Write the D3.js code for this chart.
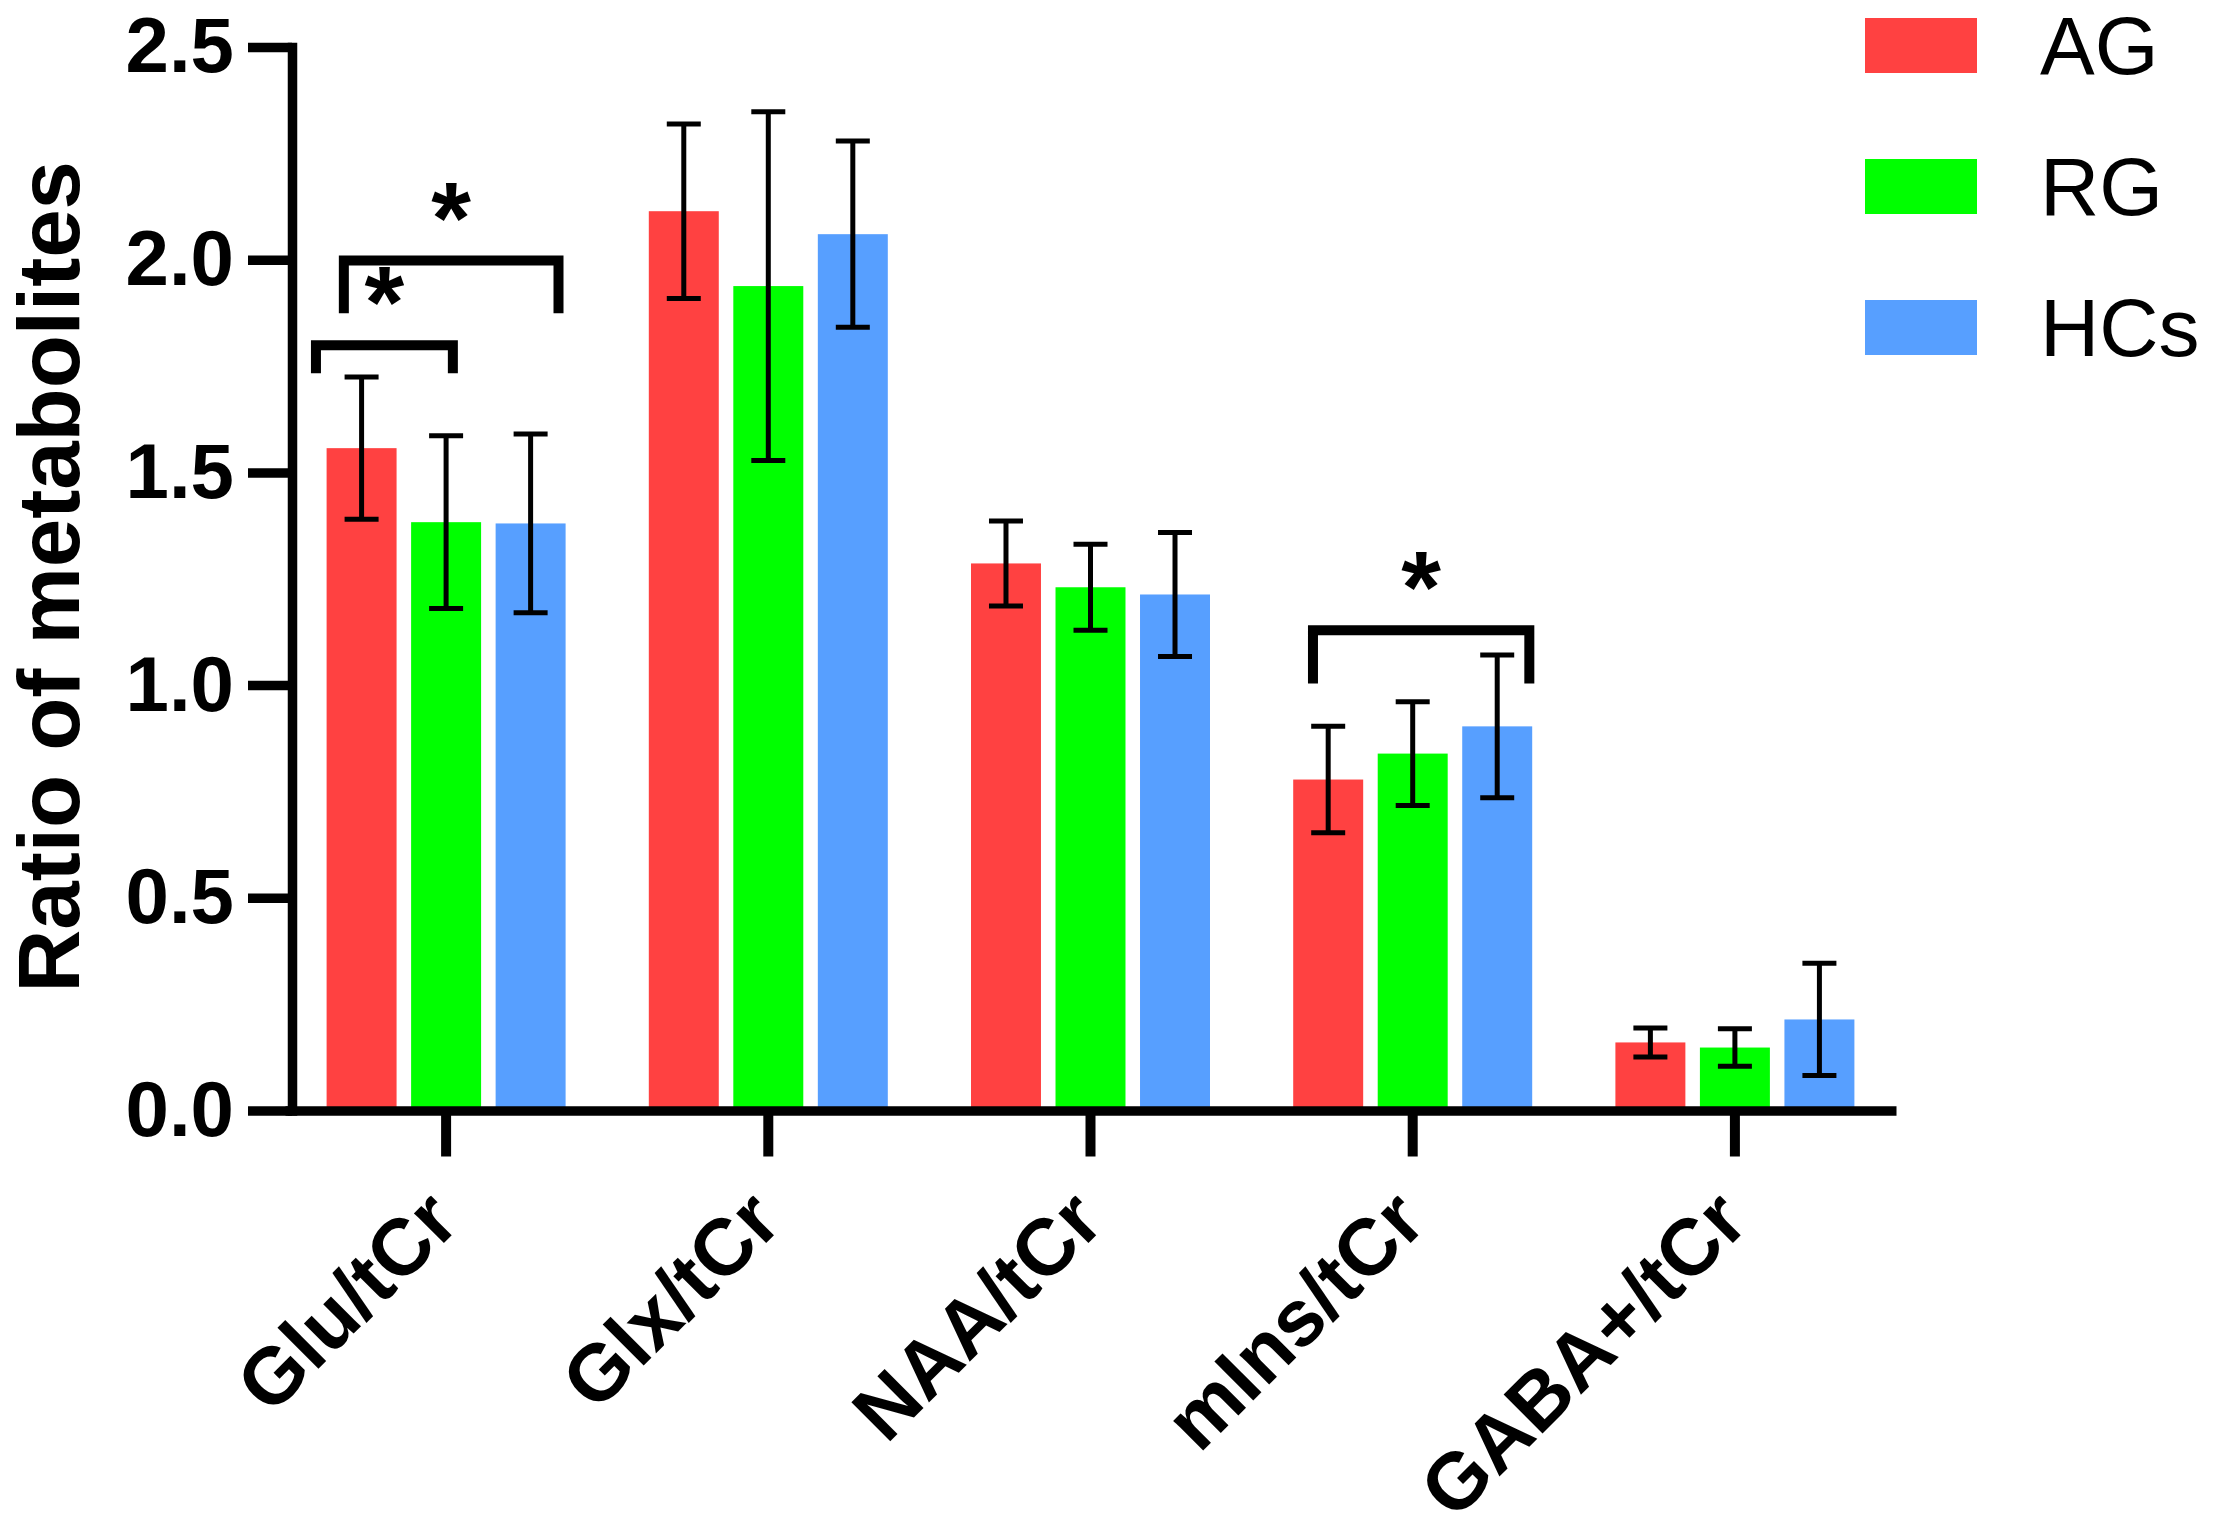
<!DOCTYPE html>
<html>
<head>
<meta charset="utf-8">
<script src="https://cdn.jsdelivr.net/npm/d3@7"></script>
<style>
  html, body { margin: 0; padding: 0; background: #ffffff; }
  svg { display: block; }
  text { font-family: "Liberation Sans", Arial, Helvetica, sans-serif; }
</style>
</head>
<body>
<svg id="chart" width="2217" height="1521"></svg>
<script>
// ---------------- data ----------------
const categories = ["Glu/tCr", "Glx/tCr", "NAA/tCr", "mIns/tCr", "GABA+/tCr"];
const seriesNames = ["AG", "RG", "HCs"];
const seriesColors = ["#FF4141", "#00FF00", "#579FFF"];

const meanAG  = [1.557, 2.114, 1.286, 0.778, 0.160];
const meanRG  = [1.383, 1.938, 1.230, 0.839, 0.148];
const meanHCs = [1.380, 2.060, 1.213, 0.903, 0.214];

const sdAG  = [0.167, 0.205, 0.100, 0.125, 0.034];
const sdRG  = [0.203, 0.410, 0.101, 0.122, 0.044];
const sdHCs = [0.210, 0.219, 0.146, 0.168, 0.132];

const yTicks = [0.0, 0.5, 1.0, 1.5, 2.0, 2.5];
const yTitle = "Ratio of metabolites";

// significance brackets: category, from/to in bar-index units, top level, leg end level
const bracketCat  = ["Glu/tCr", "Glu/tCr", "mIns/tCr"];
const bracketFrom = [-0.54, -0.21, -0.18];
const bracketTo   = [1.08, 2.33, 2.38];
const bracketTop  = [1.799, 1.998, 1.129];
const bracketLeg  = [1.733, 1.874, 1.004];
const bracketLabel = ["*", "*", "*"];

// ---------------- build table ----------------
const means = [meanAG, meanRG, meanHCs];
const sds = [sdAG, sdRG, sdHCs];
const rows = categories.map((c, i) => ({
  cat: c,
  values: seriesNames.map((s, j) => ({ series: s, idx: j, mean: means[j][i], sd: sds[j][i] }))
}));

// ---------------- scales ----------------
const svg = d3.select("#chart");
const x0 = d3.scaleBand().domain(categories).range([285, 1896]).paddingInner(0).paddingOuter(0);
const x1 = d3.scaleBand().domain(seriesNames).range([-119.5, 119.5]).paddingInner(0.172).paddingOuter(0);
const y = d3.scaleLinear().domain([0, 2.5]).range([1110.5, 47]);
const color = d3.scaleOrdinal().domain(seriesNames).range(seriesColors);
const step1 = x1.step();

// ---------------- bars ----------------
const groups = svg.append("g").selectAll("g")
  .data(rows).join("g")
  .attr("transform", d => `translate(${x0(d.cat) + x0.bandwidth() / 2},0)`);

groups.selectAll("rect")
  .data(d => d.values).join("rect")
  .attr("x", d => x1(d.series))
  .attr("width", x1.bandwidth())
  .attr("y", d => y(d.mean))
  .attr("height", d => y(0) - y(d.mean))
  .attr("fill", d => color(d.series));

// ---------------- error bars ----------------
const capHalf = 17;
const eb = groups.selectAll("g.err")
  .data(d => d.values).join("g").attr("class", "err")
  .attr("transform", d => `translate(${x1(d.series) + x1.bandwidth() / 2},0)`)
  .attr("stroke", "#000").attr("stroke-width", 5).attr("fill", "none");
eb.append("line").attr("x1", 0).attr("x2", 0)
  .attr("y1", d => y(d.mean + d.sd)).attr("y2", d => y(d.mean - d.sd));
eb.append("line").attr("x1", -capHalf).attr("x2", capHalf)
  .attr("y1", d => y(d.mean + d.sd)).attr("y2", d => y(d.mean + d.sd));
eb.append("line").attr("x1", -capHalf).attr("x2", capHalf)
  .attr("y1", d => y(d.mean - d.sd)).attr("y2", d => y(d.mean - d.sd));

// ---------------- axes ----------------
const yAxis = d3.axisLeft(y).tickValues(yTicks).tickFormat(d3.format(".1f"))
  .tickSize(44).tickSizeOuter(0).tickPadding(14);
const gy = svg.append("g").attr("transform", "translate(292,0)").call(yAxis);
gy.select(".domain").attr("stroke", "#000").attr("stroke-width", 9.5).attr("stroke-linecap", "square");
gy.selectAll(".tick line").attr("stroke", "#000").attr("stroke-width", 9.5);
gy.selectAll(".tick text").attr("fill", "#000")
  .style("font-size", "78px").style("font-weight", "bold")
  .style("font-family", '"Liberation Sans", Arial, sans-serif');

const xAxis = d3.axisBottom(x0).tickSize(46).tickSizeOuter(0).tickFormat("");
const gx = svg.append("g").attr("transform", `translate(0,${y(0)})`).call(xAxis);
gx.select(".domain").attr("stroke", "#000").attr("stroke-width", 9.5);
gx.selectAll(".tick line").attr("stroke", "#000").attr("stroke-width", 10);

// rotated category labels
svg.append("g").selectAll("text")
  .data(categories).join("text")
  .attr("transform", d => `translate(${x0(d) + x0.bandwidth() / 2 + 16},1225) rotate(-45)`)
  .attr("text-anchor", "end")
  .style("font-size", "80px").style("font-weight", "bold")
  .attr("fill", "#000")
  .text(d => d);

// y title
svg.append("text")
  .attr("transform", `translate(79,${(y(0) + y(2.5)) / 2 - 2}) rotate(-90)`)
  .attr("text-anchor", "middle")
  .style("font-size", "87px").style("font-weight", "bold")
  .attr("fill", "#000")
  .text(yTitle);

// ---------------- significance brackets ----------------
const brackets = bracketCat.map((c, i) => ({
  cat: c, from: bracketFrom[i], to: bracketTo[i], top: bracketTop[i], leg: bracketLeg[i], label: bracketLabel[i]
}));
const bx = (d, v) => x0(d.cat) + x0.bandwidth() / 2 + (v - 1) * step1;
const bg = svg.append("g");
bg.selectAll("path").data(brackets).join("path")
  .attr("d", d => {
    const p = d3.path();
    p.moveTo(bx(d, d.from), y(d.leg));
    p.lineTo(bx(d, d.from), y(d.top));
    p.lineTo(bx(d, d.to), y(d.top));
    p.lineTo(bx(d, d.to), y(d.leg));
    return p.toString();
  })
  .attr("fill", "none").attr("stroke", "#000").attr("stroke-width", 10)
  .attr("stroke-linejoin", "miter").attr("stroke-linecap", "butt");
bg.selectAll("text").data(brackets).join("text")
  .attr("x", d => (bx(d, d.from) + bx(d, d.to)) / 2)
  .attr("y", d => y(d.top) - 8)
  .attr("text-anchor", "middle")
  .style("font-size", "102px").style("font-weight", "bold")
  .attr("fill", "#000")
  .text(d => d.label);

// ---------------- legend ----------------
const leg = svg.append("g").selectAll("g")
  .data(seriesNames).join("g")
  .attr("transform", (d, i) => `translate(1865,${18 + i * 141})`);
leg.append("rect").attr("width", 112).attr("height", 55).attr("fill", d => color(d));
leg.append("text").attr("x", 175).attr("y", 56)
  .style("font-size", "82px").attr("fill", "#000").text(d => d);
</script>
</body>
</html>
